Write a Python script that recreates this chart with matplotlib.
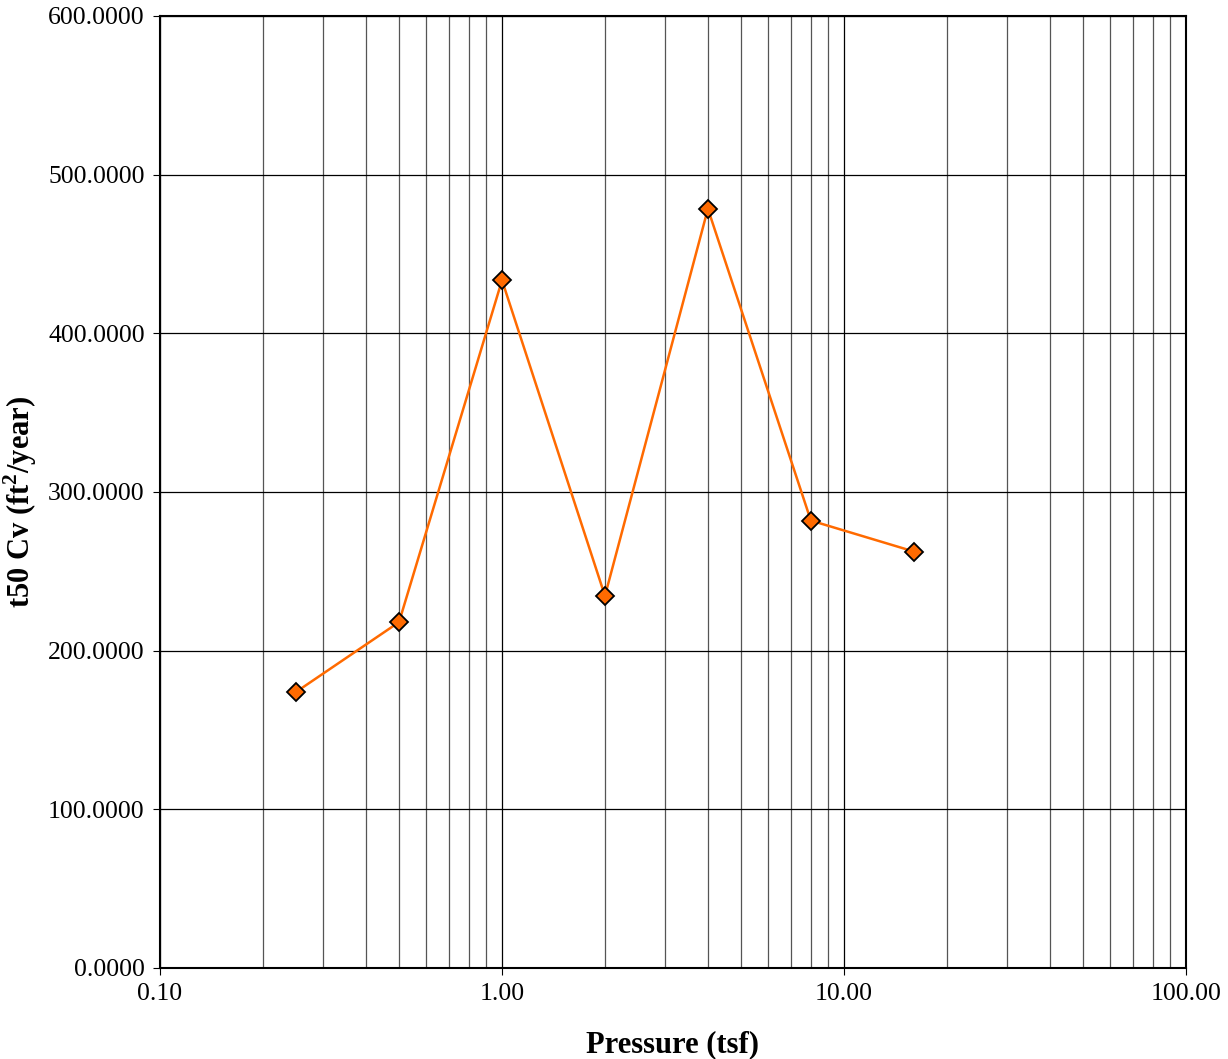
import matplotlib
matplotlib.use("Agg")
import matplotlib.pyplot as plt
from matplotlib.ticker import LogLocator, FixedLocator, NullFormatter

plt.rcParams['font.family'] = ['Liberation Serif', 'DejaVu Serif']
plt.rcParams['mathtext.fontset'] = 'custom'
plt.rcParams['mathtext.rm'] = 'Liberation Serif'
plt.rcParams['mathtext.bf'] = 'Liberation Serif:bold'

# data
pressure = [0.25, 0.5, 1.0, 2.0, 4.0, 8.0, 16.0]
cv = [174.0, 218.0, 433.5, 234.5, 478.5, 282.0, 262.5]

x_ticks = [0.1, 1.0, 10.0, 100.0]
y_ticks = [0, 100, 200, 300, 400, 500, 600]

fig = plt.figure(figsize=(12.28, 10.59), dpi=100)
ax = fig.add_axes([160/1228, 1 - 968/1059, 1026/1228, 952/1059])

ax.set_xscale('log')
ax.set_xlim(0.1, 100)
ax.set_ylim(0, 600)

ax.xaxis.set_major_locator(FixedLocator(x_ticks))
ax.xaxis.set_minor_locator(LogLocator(base=10, subs=range(2, 10)))
ax.xaxis.set_minor_formatter(NullFormatter())
ax.set_xticks(x_ticks)
ax.set_xticklabels([f'{v:.2f}' for v in x_ticks])
ax.set_yticks(y_ticks)
ax.set_yticklabels([f'{v:.4f}' for v in y_ticks])

ax.grid(True, which='major', axis='both', color='black', linewidth=0.9)
ax.grid(True, which='minor', axis='x', color='#555555', linewidth=0.9)
ax.set_axisbelow(True)

ax.tick_params(axis='both', which='major', labelsize=18.5, length=5, direction='out', pad=6)
ax.tick_params(axis='x', which='minor', length=0)
for s in ax.spines.values():
    s.set_linewidth(1.5)

ax.plot(pressure, cv, color='#FF6A00', linewidth=1.8, marker='D', markersize=9,
        markerfacecolor='#FF6A00', markeredgecolor='black', markeredgewidth=1.3, zorder=3)

ax.set_xlabel('Pressure (tsf)', fontsize=22, fontweight='bold', labelpad=18)
ax.set_ylabel(r't50 Cv (ft$^{\mathbf{2}}$/year)', fontsize=22, fontweight='bold')
ax.yaxis.set_label_coords(-0.118, 0.49)

fig.savefig('out.png', dpi=100)
